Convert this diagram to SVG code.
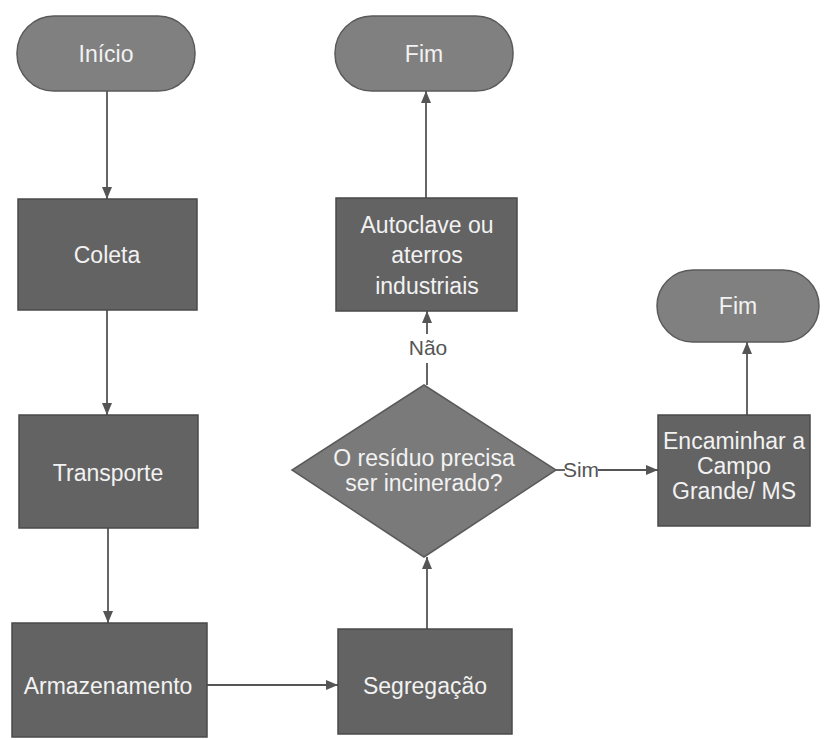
<svg xmlns="http://www.w3.org/2000/svg" width="826" height="740" viewBox="0 0 826 740">
<style>
.term{fill:#808080;stroke:#5a5a5a;stroke-width:1.5}
.proc{fill:#636363;stroke:#4a4a4a;stroke-width:1.5}
.dec{fill:#7a7a7a;stroke:#5a5a5a;stroke-width:1.5}
.t{font-family:"Liberation Sans",Arial,sans-serif;font-size:23px;fill:#f2f2f2;text-anchor:middle}
.lbl{font-family:"Liberation Sans",Arial,sans-serif;font-size:21px;fill:#555;text-anchor:middle}
.c{stroke:#555;stroke-width:1.8;fill:none}
</style>
<defs>
<marker id="ah" markerWidth="12" markerHeight="10" refX="12" refY="5" orient="auto" markerUnits="userSpaceOnUse">
<path d="M0,0 L12,5 L0,10 Z" fill="#555"/>
</marker>
</defs>
<rect width="826" height="740" fill="#ffffff"/>
<g id="connectors">
<line class="c" x1="107" y1="91" x2="107" y2="199" marker-end="url(#ah)"/>
<line class="c" x1="107" y1="310" x2="107" y2="415" marker-end="url(#ah)"/>
<line class="c" x1="108" y1="528" x2="108" y2="623" marker-end="url(#ah)"/>
<line class="c" x1="207" y1="685" x2="338" y2="685" marker-end="url(#ah)"/>
<line class="c" x1="427" y1="629" x2="427" y2="557" marker-end="url(#ah)"/>
<line class="c" x1="427" y1="385" x2="427" y2="363"/>
<line class="c" x1="427" y1="334" x2="427" y2="311" marker-end="url(#ah)"/>
<text class="lbl" x="428" y="355">Não</text>
<line class="c" x1="426" y1="198" x2="426" y2="91" marker-end="url(#ah)"/>
<line class="c" x1="556" y1="470" x2="565" y2="470"/>
<text class="lbl" x="581" y="477">Sim</text>
<line class="c" x1="598" y1="470" x2="658" y2="470" marker-end="url(#ah)"/>
<line class="c" x1="747" y1="415" x2="747" y2="342" marker-end="url(#ah)"/>
</g>
<g id="inicio">
<rect class="term" x="17" y="16" width="178" height="75" rx="37" ry="37"/>
<text class="t" x="106" y="62">Início</text>
</g>
<g id="coleta">
<rect class="proc" x="18" y="199" width="179" height="111"/>
<text class="t" x="107" y="263">Coleta</text>
</g>
<g id="transporte">
<rect class="proc" x="19" y="415" width="179" height="113"/>
<text class="t" x="108" y="481">Transporte</text>
</g>
<g id="armazenamento">
<rect class="proc" x="12" y="623" width="195" height="114"/>
<text class="t" x="108" y="694">Armazenamento</text>
</g>
<g id="segregacao">
<rect class="proc" x="338" y="629" width="174" height="105"/>
<text class="t" x="425" y="694">Segregação</text>
</g>
<g id="decisao">
<polygon class="dec" points="424,385 556,470 424,557 292,470"/>
<text class="t" x="424" y="466">O resíduo precisa</text>
<text class="t" x="424" y="491">ser incinerado?</text>
</g>
<g id="autoclave">
<rect class="proc" x="336" y="198" width="181" height="113"/>
<text class="t" x="427" y="233">Autoclave ou</text>
<text class="t" x="427" y="263">aterros</text>
<text class="t" x="427" y="294">industriais</text>
</g>
<g id="fim1">
<rect class="term" x="335" y="16" width="178" height="75" rx="37" ry="37"/>
<text class="t" x="424" y="62">Fim</text>
</g>
<g id="encaminhar">
<rect class="proc" x="658" y="415" width="152" height="111"/>
<text class="t" x="734" y="449">Encaminhar a</text>
<text class="t" x="734" y="474">Campo</text>
<text class="t" x="734" y="499">Grande/ MS</text>
</g>
<g id="fim2">
<rect class="term" x="657" y="270" width="162" height="72" rx="36" ry="36"/>
<text class="t" x="738" y="314">Fim</text>
</g>
</svg>
